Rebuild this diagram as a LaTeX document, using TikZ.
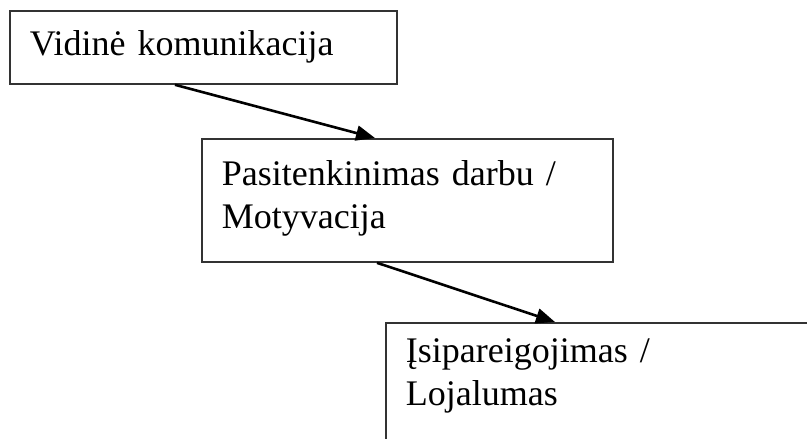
\documentclass[tikz,border=0pt]{standalone}
\usepackage{fontspec}
\setmainfont{Liberation Serif}
\usetikzlibrary{arrows.meta}

\begin{document}
\begin{tikzpicture}[x=1pt, y=-1pt,
        blokas/.style={draw=black!80, line width=1.8pt, anchor=north west,
            inner xsep=20pt, inner ysep=0pt, align=left,
            font=\fontsize{36}{43}\selectfont},
        rodykle/.style={-{Triangle[length=19pt,width=15pt]}, line width=2.6pt}]
        \useasboundingbox (0,0) rectangle (807,439);
        \clip (0,0) rectangle (807,439);
        \node[blokas, text width=347pt, text height=45pt, text depth=28pt] (vidine) at (9,10) {Vidinė komunikacija};
        \node[blokas, text width=371pt, text height=47pt, text depth=76pt] (motyv) at (201,138) {Pasitenkinimas darbu /\\Motyvacija};
        \node[blokas, text width=500pt, text height=40pt, text depth=108pt] (lojal) at (385,322) {Įsipareigojimas /\\Lojalumas};
        \draw[rodykle] ([xshift=166pt]vidine.south west) -- ([xshift=174pt]motyv.north west);
        \draw[rodykle] ([xshift=176pt]motyv.south west) -- ([xshift=170pt]lojal.north west);
    \end{tikzpicture}
\end{document}
